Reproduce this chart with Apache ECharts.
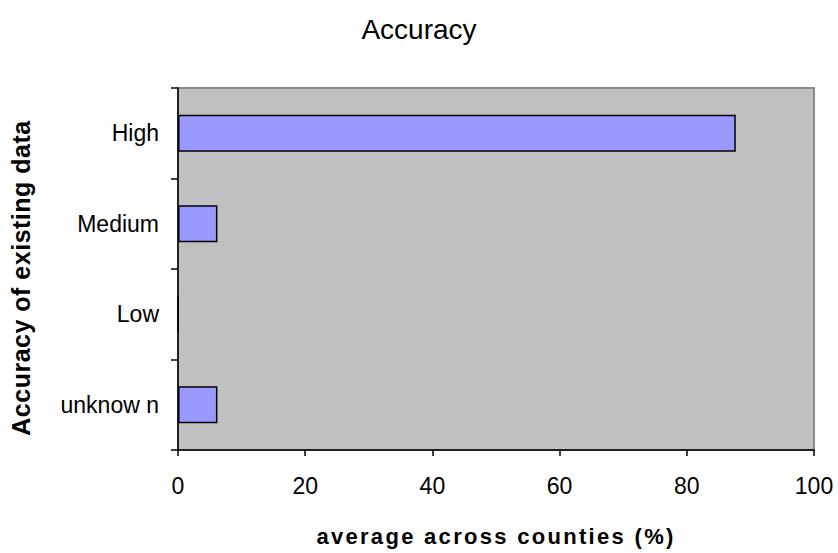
<!DOCTYPE html>
<html>
<head>
<meta charset="utf-8">
<script src="https://cdn.jsdelivr.net/npm/echarts@6/dist/echarts.min.js"></script>
<style>
html,body{margin:0;padding:0;background:#fff;}
#chart{width:838px;height:553px;}
</style>
</head>
<body>
<div id="chart"></div>
<script>
const categories = ['High', 'Medium', 'Low', 'unknow n'];
const values = [87.7, 6.2, 0, 6.2];
const xTicks = [0, 20, 40, 60, 80, 100];
const titleText = 'Accuracy';
const xName = 'average across counties (%)';
const yName = 'Accuracy of existing data';

const chart = echarts.init(document.getElementById('chart'), null, {renderer: 'svg'});
const font = '"Liberation Sans", Arial, sans-serif';
chart.setOption({
  animation: false,
  backgroundColor: '#ffffff',
  title: {
    text: titleText,
    left: 'center',
    top: 10,
    textStyle: {fontFamily: font, fontSize: 28, fontWeight: 'normal', color: '#000'}
  },
  grid: {
    left: 176, top: 88, right: 24, bottom: 103,
    show: true, backgroundColor: '#c0c0c0', borderColor: '#8a8a8a', borderWidth: 2,
    containLabel: false
  },
  xAxis: {
    type: 'value', min: xTicks[0], max: xTicks[xTicks.length - 1], interval: 20,
    name: xName, nameLocation: 'middle', nameGap: 75,
    nameTextStyle: {fontFamily: font, fontSize: 22, fontWeight: 'bold', color: '#000'},
    axisLine: {show: true, lineStyle: {color: '#000', width: 1.5}},
    axisTick: {show: true, length: 6, lineStyle: {color: '#000', width: 1.5}},
    axisLabel: {fontFamily: font, fontSize: 23, color: '#000', margin: 24},
    splitLine: {show: false}
  },
  yAxis: {
    type: 'category', data: categories, inverse: true,
    name: yName, nameLocation: 'middle', nameGap: 145, nameRotate: 90,
    nameTextStyle: {fontFamily: font, fontSize: 25, fontWeight: 'bold', color: '#000', padding: [0, 18, 0, 0]},
    axisLine: {show: true, lineStyle: {color: '#000', width: 1.5}},
    axisTick: {show: true, length: 7, lineStyle: {color: '#000', width: 1.5}},
    axisLabel: {fontFamily: font, fontSize: 23, color: '#000', margin: 19}
  },
  series: [{
    type: 'bar',
    data: values,
    barWidth: '41%',
    itemStyle: {color: '#9999ff', borderColor: '#000', borderWidth: 1.5}
  }]
});
function spaceName() {
  document.querySelectorAll('#chart svg text').forEach(function (t) {
    if (t.textContent === xName) { t.style.letterSpacing = '2.3px'; }
    if (t.textContent === yName) { t.style.letterSpacing = '0.5px'; }
  });
}
chart.on('finished', spaceName);
setTimeout(spaceName, 0);
</script>
</body>
</html>
